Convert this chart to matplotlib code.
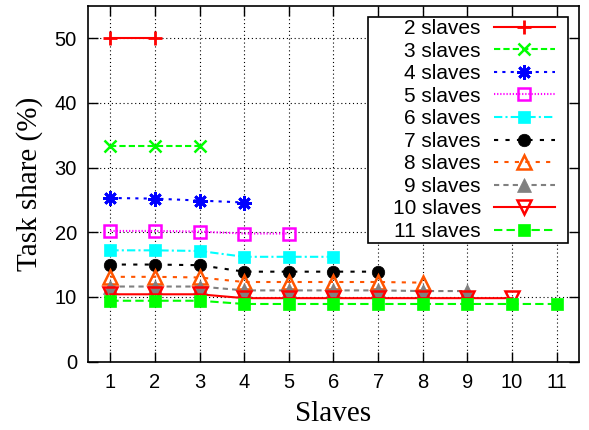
import matplotlib
matplotlib.use("Agg")
import matplotlib.pyplot as plt
from matplotlib.patches import Rectangle

# Task share (%) per slave index, one series per cluster size
slaves = list(range(1, 12))
s2 = [50.0, 50.0]
s3 = [33.3, 33.3, 33.3]
s4 = [25.3, 25.2, 24.9, 24.6]
s5 = [20.2, 20.2, 20.1, 19.8, 19.8]
s6 = [17.2, 17.2, 17.1, 16.2, 16.2, 16.2]
s7 = [15.0, 15.0, 14.9, 13.9, 13.9, 13.9, 13.9]
s8 = [13.1, 13.1, 13.0, 12.3, 12.3, 12.3, 12.3, 12.2]
s9 = [11.6, 11.6, 11.6, 11.0, 11.0, 11.0, 11.0, 10.9, 10.9]
s10 = [10.4, 10.4, 10.4, 9.8, 9.8, 9.8, 9.8, 9.8, 9.8, 9.8]
s11 = [9.4, 9.4, 9.4, 8.9, 8.9, 8.9, 8.9, 8.9, 8.9, 8.9, 8.9]
series = [s2, s3, s4, s5, s6, s7, s8, s9, s10, s11]
labels = ["2 slaves", "3 slaves", "4 slaves", "5 slaves", "6 slaves",
          "7 slaves", "8 slaves", "9 slaves", "10 slaves", "11 slaves"]
xticks = list(range(1, 12))
yticks = [0, 10, 20, 30, 40, 50]

styles = [
    dict(color="#ff0000", ls="-", marker="+", ms=10, mew=2.0, mfc="none"),
    dict(color="#00ff00", ls=(0, (3, 1.5)), marker="x", ms=9, mew=1.8, mfc="none"),
    dict(color="#0000ff", ls=(0, (1.5, 2.5)), marker=(8, 2, 0), ms=10.5, mew=2.0, mfc="none"),
    dict(color="#ff00ff", ls=(0, (0.6, 0.9)), marker="s", ms=9, mew=1.8, mfc="none"),
    dict(color="#00ffff", ls=(0, (4, 1.5, 1, 1.5)), marker="s", ms=9, mew=0.5),
    dict(color="#000000", ls=(0, (2, 3.5)), marker="o", ms=9, mew=0.5),
    dict(color="#ff5500", ls=(0, (2, 3)), marker="^", ms=10, mew=1.8, mfc="none"),
    dict(color="#808080", ls=(0, (2.5, 2)), marker="^", ms=9.5, mew=0.5),
    dict(color="#ff0000", ls="-", marker="v", ms=10, mew=1.8, mfc="none"),
    dict(color="#00ff00", ls=(0, (4, 2)), marker="s", ms=9, mew=0.5),
]

plt.rcParams["font.family"] = ["Liberation Sans", "DejaVu Sans"]

fig = plt.figure(figsize=(5.89, 4.30), dpi=100)
ax = fig.add_axes([0.1494, 0.1593, 0.983 - 0.1494, 0.986 - 0.1593])

for vals, lab, st in zip(series, labels, styles):
    st = dict(st)
    color = st.pop("color")
    ls = st.pop("ls")
    mfc = st.pop("mfc", color)
    ax.plot(slaves[:len(vals)], vals, color=color, linestyle=ls, lw=1.5,
            mec=color, mfc=mfc, label=lab, **st)

ax.set_xlim(0.5, 11.5)
ax.set_ylim(0, 55)
ax.set_xticks(xticks)
ax.set_yticks(yticks)
ax.tick_params(direction="in", length=7, width=1.0, top=True, right=True,
               labelsize=14.5)
ax.tick_params(axis="y", pad=8)
ax.tick_params(axis="x", pad=8)
ax.grid(True, color="black", linestyle=(0, (1, 2.5)), linewidth=0.8)
ax.set_axisbelow(True)
for sp in ax.spines.values():
    sp.set_linewidth(1.2)

ax.set_xlabel("Slaves", family="Liberation Serif", fontsize=21, labelpad=7)
ax.set_ylabel("Task share (%)", family="Liberation Serif", fontsize=21, labelpad=8)

leg = ax.legend(loc="upper right", bbox_to_anchor=(0.955, 0.969),
                borderaxespad=0, markerfirst=False, fontsize=15,
                handlelength=2.93, handletextpad=0.62, labelspacing=0.17,
                borderpad=0.1, frameon=False)
leg.set_zorder(6)

# white box behind the key, wider than the key itself on both sides
fig.canvas.draw()
bb = leg.get_window_extent().transformed(ax.transAxes.inverted())
left_extra = 23 / ax.bbox.width
right_extra = 11 / ax.bbox.width
box = Rectangle((bb.x0 - left_extra, bb.y0),
                bb.width + left_extra + right_extra, bb.height,
                transform=ax.transAxes, facecolor="white", edgecolor="black",
                linewidth=1.2, zorder=5.5)
ax.add_patch(box)

fig.savefig("out.png", dpi=100)
